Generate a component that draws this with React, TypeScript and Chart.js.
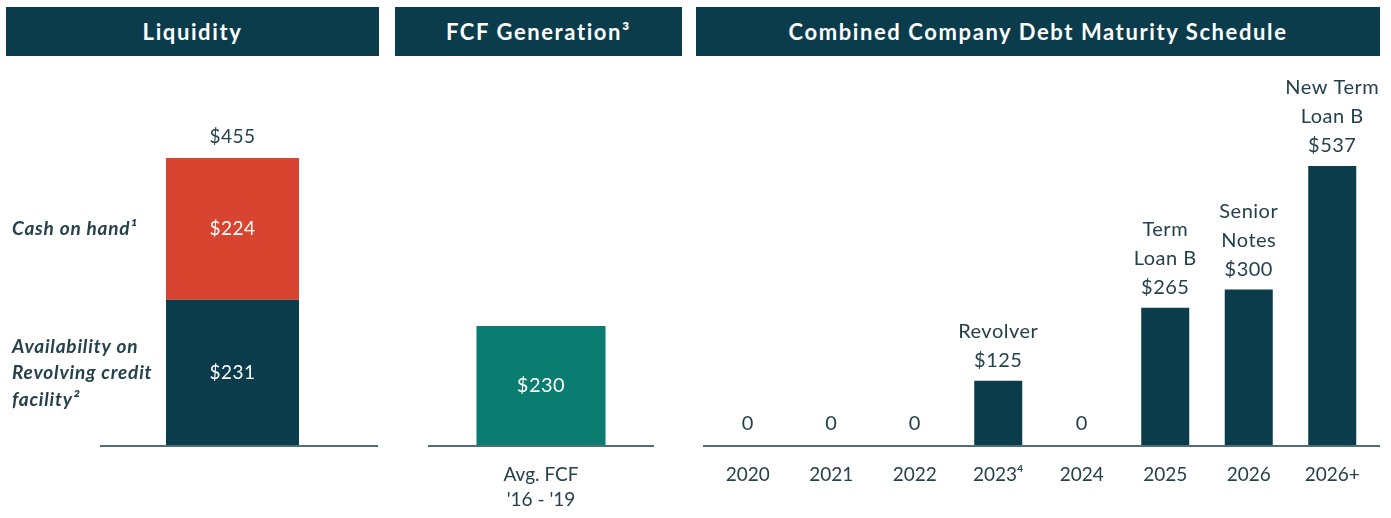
import React, { useEffect, useRef } from 'react';
import { Chart, registerables } from 'chart.js';

Chart.register(...registerables);

// ---------- data ----------
const liquidityCategories = ['Liquidity'];
const revolverAvailability = [231];
const cashOnHand = [224];
const liquidityTotal = [455];
const availabilityLabel = ['Availability on', 'Revolving credit', 'facility²'];
const cashLabel = ['Cash on hand¹'];

const fcfCategories = [['Avg. FCF', "'16 - '19"]];
const fcfValues = [230];

const debtYears = ['2020', '2021', '2022', '2023⁴', '2024', '2025', '2026', '2026+'];
const debtValues = [0, 0, 0, 125, 0, 265, 300, 537];
const debtNotes: string[][] = [[], [], [], ['Revolver'], [], ['Term', 'Loan B'], ['Senior', 'Notes'], ['New Term', 'Loan B']];

const headerTitles = ['Liquidity', 'FCF Generation³', 'Combined Company Debt Maturity Schedule'];

// ---------- styles ----------
const FONT = "Lato, 'Noto Sans', sans-serif";
const DARK = '#0b3c4c';
const RED = '#d8442f';
const TEAL = '#0a7c70';
const TEXT = '#24414c';
const AXIS = '#4f6f78';

const baselinePlugin = {
  id: 'baseline',
  afterDatasetsDraw(chart: any, _args: any, opts: any) {
    const { ctx, chartArea } = chart;
    const y = chart.scales.y.getPixelForValue(0);
    ctx.save();
    ctx.strokeStyle = AXIS;
    ctx.lineWidth = 2;
    ctx.beginPath();
    ctx.moveTo(chartArea.left - (opts.extendLeft || 0), y);
    ctx.lineTo(chartArea.right + (opts.extendRight || 0), y);
    ctx.stroke();
    ctx.restore();
  },
};

const liquidityLabelsPlugin = {
  id: 'liquidityLabels',
  afterDatasetsDraw(chart: any) {
    const ctx = chart.ctx;
    const side = [availabilityLabel, cashLabel];
    ctx.save();
    ctx.textBaseline = 'middle';
    chart.data.datasets.forEach((ds: any, di: number) => {
      const el = chart.getDatasetMeta(di).data[0];
      const cy = (el.y + el.base) / 2;
      ctx.textAlign = 'center';
      ctx.fillStyle = '#ffffff';
      ctx.font = `19px ${FONT}`;
      ctx.letterSpacing = '0.5px';
      ctx.fillText('$' + ds.data[0], el.x, cy);
      ctx.textAlign = 'left';
      ctx.fillStyle = TEXT;
      ctx.font = `italic bold 19px ${FONT}`;
      ctx.letterSpacing = '0.8px';
      const lines = side[di];
      lines.forEach((ln: string, i: number) => {
        ctx.fillText(ln, 12, cy + (i - (lines.length - 1) / 2) * 26.5);
      });
    });
    const topEl = chart.getDatasetMeta(chart.data.datasets.length - 1).data[0];
    ctx.textAlign = 'center';
    ctx.fillStyle = TEXT;
    ctx.font = `19px ${FONT}`;
    ctx.letterSpacing = '0.5px';
    ctx.fillText('$' + liquidityTotal[0], topEl.x, topEl.y - 21);
    ctx.restore();
  },
};

const fcfLabelsPlugin = {
  id: 'fcfLabels',
  afterDatasetsDraw(chart: any) {
    const ctx = chart.ctx;
    const el = chart.getDatasetMeta(0).data[0];
    ctx.save();
    ctx.textAlign = 'center';
    ctx.textBaseline = 'middle';
    ctx.fillStyle = '#ffffff';
    ctx.font = `20px ${FONT}`;
    ctx.letterSpacing = '0.5px';
    ctx.fillText('$' + fcfValues[0], el.x, (el.y + el.base) / 2);
    ctx.restore();
  },
};

const debtLabelsPlugin = {
  id: 'debtLabels',
  afterDatasetsDraw(chart: any) {
    const ctx = chart.ctx;
    ctx.save();
    ctx.textAlign = 'center';
    ctx.textBaseline = 'middle';
    ctx.fillStyle = TEXT;
    ctx.font = `20px ${FONT}`;
    ctx.letterSpacing = '0.5px';
    chart.getDatasetMeta(0).data.forEach((el: any, i: number) => {
      const v = debtValues[i];
      const y0 = el.y - (v === 0 ? 22 : 20);
      ctx.fillText(v === 0 ? '0' : '$' + v, el.x, y0);
      const notes = debtNotes[i];
      notes.forEach((n, j) => ctx.fillText(n, el.x, y0 - (notes.length - j) * 29));
    });
    ctx.restore();
  },
};

function xAxis(showTicks: boolean) {
  return {
    display: showTicks,
    stacked: true,
    grid: { display: false, drawTicks: false },
    border: { display: false },
    ticks: {
      color: TEXT,
      padding: 16,
      font: { family: FONT, size: 19, lineHeight: 1.33 },
      maxRotation: 0,
      autoSkip: false,
    },
    afterFit: (scale: any) => {
      scale.height = 72;
    },
  };
}

function yAxis(max: number) {
  return { display: false, stacked: true, min: 0, max };
}

function ChartCanvas({ config, left, width }: { config: any; left: number; width: number }) {
  const ref = useRef<HTMLCanvasElement>(null);
  useEffect(() => {
    const chart = new Chart(ref.current as HTMLCanvasElement, config);
    return () => chart.destroy();
  }, []);
  return (
    <canvas
      ref={ref}
      width={width}
      height={458}
      style={{ position: 'absolute', left, top: 60, width, height: 458 }}
    />
  );
}

const commonOptions = {
  responsive: false,
  animation: false,
  devicePixelRatio: 1,
  plugins: { legend: { display: false }, tooltip: { enabled: false } },
};

const liquidityConfig = {
  type: 'bar',
  data: {
    labels: liquidityCategories,
    datasets: [
      { data: revolverAvailability, backgroundColor: DARK, barPercentage: 0.502, categoryPercentage: 1 },
      { data: cashOnHand, backgroundColor: RED, barPercentage: 0.502, categoryPercentage: 1 },
    ],
  },
  options: {
    ...commonOptions,
    layout: { padding: { left: 100, right: 25, top: 0, bottom: 0 } },
    scales: { x: { ...xAxis(false) }, y: yAxis(610) },
    plugins: { ...commonOptions.plugins, baseline: { extendRight: 13 } },
  },
  plugins: [baselinePlugin, liquidityLabelsPlugin],
};

const fcfConfig = {
  type: 'bar',
  data: {
    labels: fcfCategories,
    datasets: [{ data: fcfValues, backgroundColor: TEAL, barPercentage: 0.571, categoryPercentage: 1 }],
  },
  options: {
    ...commonOptions,
    layout: { padding: { left: 38, right: 36, top: 0, bottom: 0 } },
    scales: { x: xAxis(true), y: yAxis(740) },
    plugins: { ...commonOptions.plugins, baseline: {} },
  },
  plugins: [baselinePlugin, fcfLabelsPlugin],
};

const debtConfig = {
  type: 'bar',
  data: {
    labels: debtYears,
    datasets: [{ data: debtValues, backgroundColor: DARK, barPercentage: 0.575, categoryPercentage: 1 }],
  },
  options: {
    ...commonOptions,
    layout: { padding: { left: 16, right: 17, top: 0, bottom: 0 } },
    scales: { x: xAxis(true), y: yAxis(740) },
    plugins: { ...commonOptions.plugins, baseline: { extendLeft: 3, extendRight: 6 } },
  },
  plugins: [baselinePlugin, debtLabelsPlugin],
};

const headerBoxes = [
  { left: 6, width: 373 },
  { left: 395, width: 287 },
  { left: 696, width: 684 },
];

export default function App() {
  return (
    <div style={{ position: 'absolute', left: 0, top: 0, width: 1391, height: 518, background: '#ffffff', overflow: 'hidden' }}>
      {headerTitles.map((t, i) => (
        <div
          key={t}
          style={{
            position: 'absolute',
            left: headerBoxes[i].left,
            top: 7,
            width: headerBoxes[i].width,
            height: 49,
            background: DARK,
            color: '#ffffff',
            display: 'flex',
            alignItems: 'center',
            justifyContent: 'center',
            fontFamily: FONT,
            fontWeight: 700,
            fontSize: 22,
            letterSpacing: 1.6,
          }}
        >
          {t}
        </div>
      ))}
      <ChartCanvas config={liquidityConfig} left={0} width={390} />
      <ChartCanvas config={fcfConfig} left={390} width={300} />
      <ChartCanvas config={debtConfig} left={690} width={701} />
    </div>
  );
}
